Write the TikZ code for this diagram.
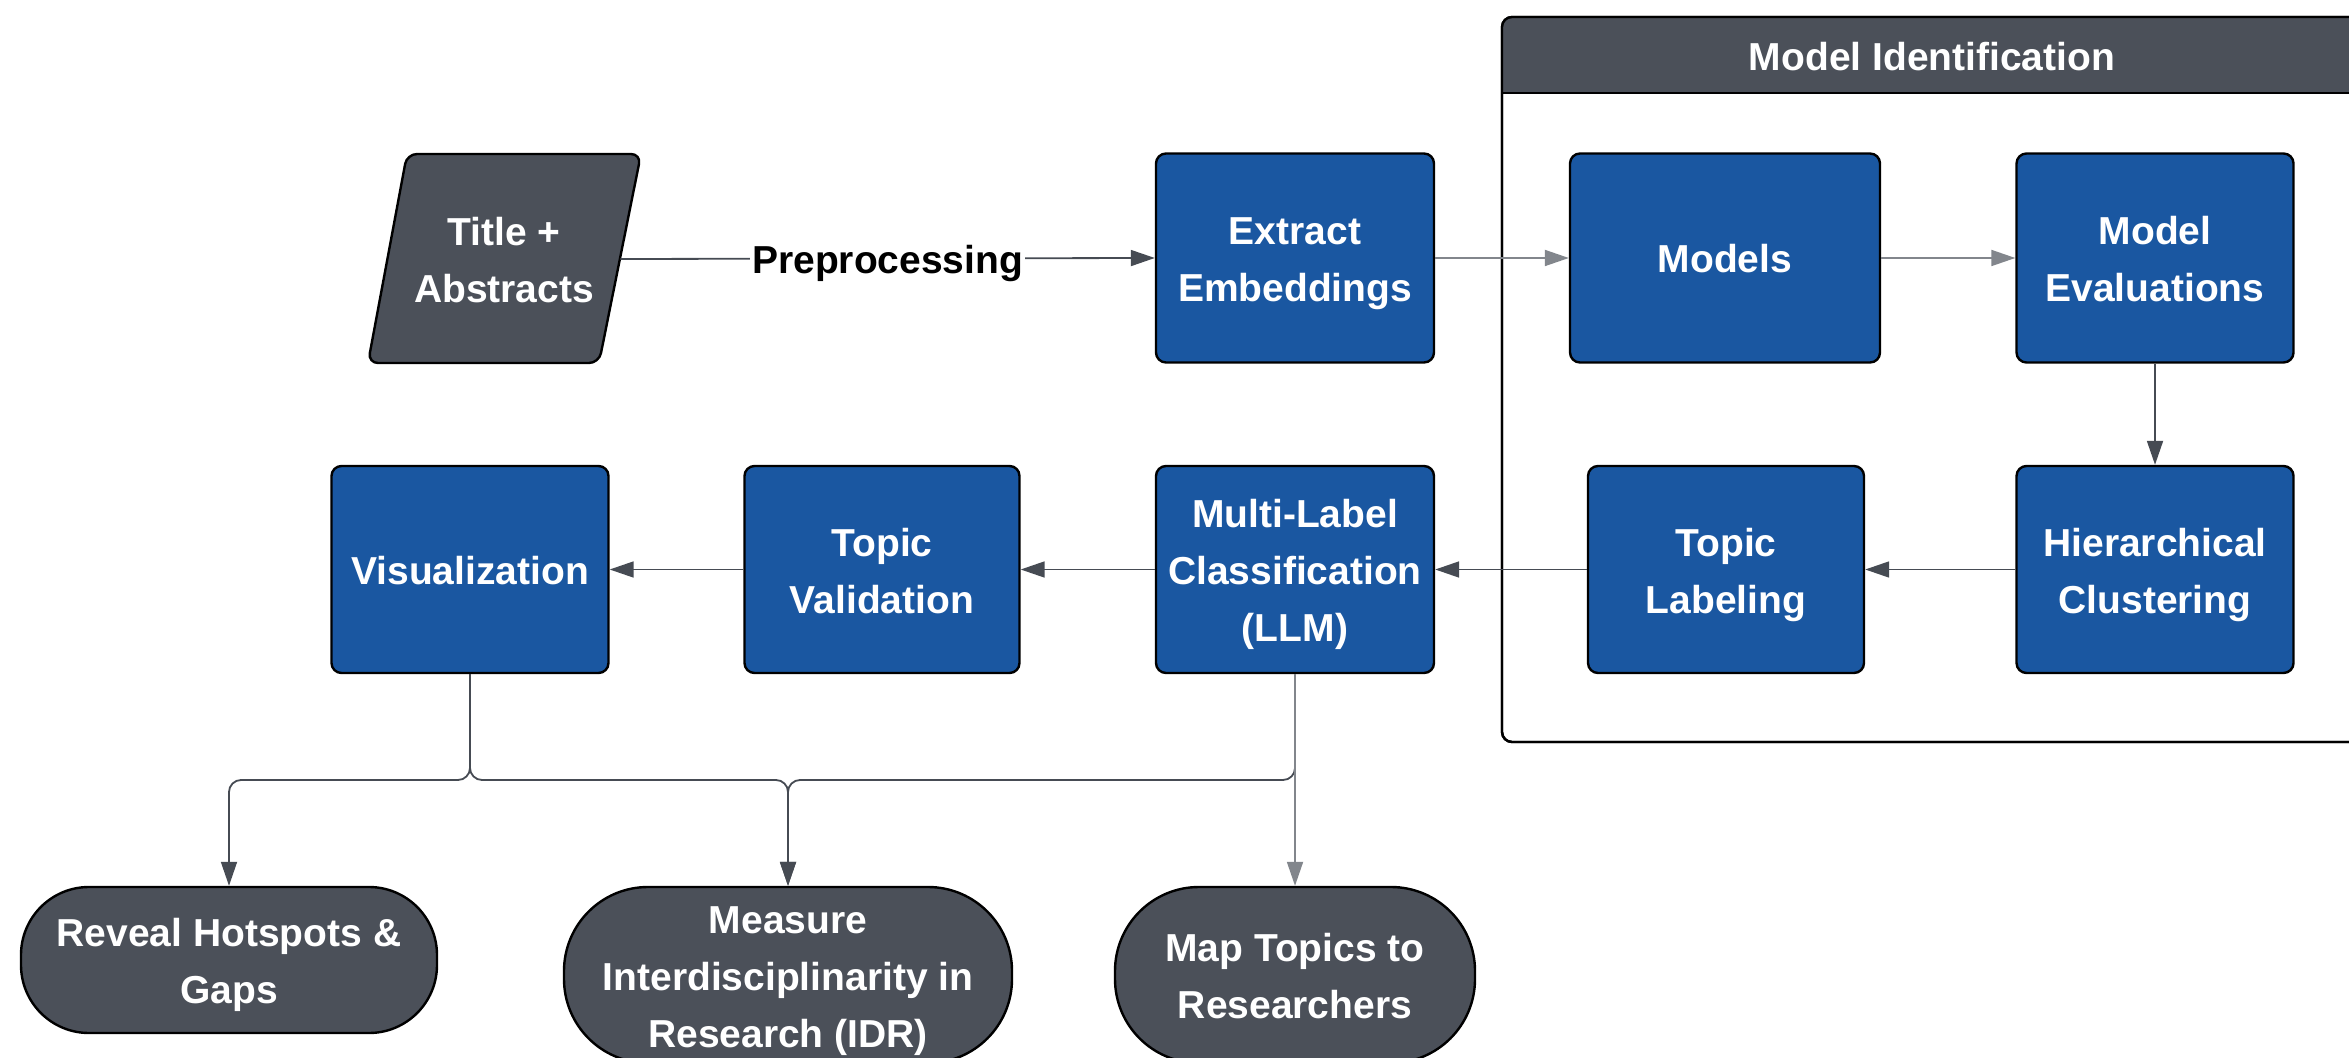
\documentclass[tikz,border=0pt]{standalone}
\usepackage{fontspec}
\setmainfont{Liberation Sans}
\usetikzlibrary{arrows.meta}
\definecolor{boxblue}{RGB}{26,87,161}
\definecolor{slate}{RGB}{75,80,89}
\definecolor{conn}{RGB}{70,75,83}
\definecolor{lightconn}{RGB}{130,134,140}
\newcommand{\lnst}{\rule[-6.75pt]{0pt}{28.5pt}}
\begin{document}
\begin{tikzpicture}[x=0.5pt,y=-0.5pt,
  txt/.style={font=\bfseries\fontsize{19.5}{28.5}\selectfont, align=center, text=white},
  proc/.style={txt, draw=black, line width=1.2pt, fill=boxblue, rounded corners=5pt, minimum height=104.5pt, inner sep=0pt},
  term/.style={txt, draw=black, line width=1.2pt, fill=slate, inner sep=0pt},
  arr/.style={draw=conn, line width=0.9pt, -{Triangle[width=8pt,length=12pt]}},
  lbl/.style={fill=white, text=black, font=\bfseries\fontsize{19.5}{24}\selectfont, inner xsep=1pt, inner ysep=0pt, text height=19pt, text depth=4pt}
]
\useasboundingbox (0,0) rectangle (2349,1058);
\fill[white] (0,0) rectangle (2349,1058);

% group box
\filldraw[fill=white, draw=black, line width=1.2pt, rounded corners=5pt] (1502,17) rectangle (2362,742);
\begin{scope}
  \clip[rounded corners=5pt] (1502,17) rectangle (2362,742);
  \fill[slate] (1502,17) rectangle (2362,93);
\end{scope}
\draw[black, line width=1.2pt] (1502,93) -- (2362,93);
\draw[black, line width=1.2pt, rounded corners=5pt] (1502,17) rectangle (2362,742);
\node[txt] (mihdr) at (1932,57) {Model Identification};

% input parallelogram
\draw[fill=slate, draw=black, line width=1.2pt, rounded corners=5pt] (407,154) -- (641,154) -- (599,363) -- (368,363) -- cycle;
\node[txt, minimum width=116pt, minimum height=20pt, inner sep=0pt] (ta) at (504,259) {\lnst Title +\\\lnst Abstracts};

% process boxes
\node[proc, minimum width=139pt] (ee) at (1295,258) {\lnst Extract\\\lnst Embeddings};
\node[proc, minimum width=155pt] (models) at (1725,258) {\lnst Models};
\node[proc, minimum width=138.5pt] (meval) at (2155,258) {\lnst Model\\\lnst Evaluations};
\node[proc, minimum width=138.5pt, minimum height=103.5pt] (hc) at (2155,569.5) {\lnst Hierarchical\\\lnst Clustering};
\node[proc, minimum width=138pt, minimum height=103.5pt] (tl) at (1726,569.5) {\lnst Topic\\\lnst Labeling};
\node[proc, minimum width=139pt, minimum height=103.5pt] (mlc) at (1295,569.5) {\lnst Multi-Label\\\lnst Classification\\\lnst (LLM)};
\node[proc, minimum width=137.5pt, minimum height=103.5pt] (tv) at (882,569.5) {\lnst Topic\\\lnst Validation};
\node[proc, minimum width=138.5pt, minimum height=103.5pt] (vis) at (470,569.5) {\lnst Visualization};

% terminals
\node[term, minimum width=208pt, minimum height=73pt, rounded corners=34pt] (rh) at (229,960) {\lnst Reveal Hotspots \&\\\lnst Gaps};
\node[term, minimum width=224pt, minimum height=88pt, rounded corners=42pt] (mi) at (788,975) {\lnst Measure\\\lnst Interdisciplinarity in\\\lnst Research (IDR)};
\node[term, minimum width=180pt, minimum height=88pt, rounded corners=42pt] (mt) at (1295,975) {\lnst Map Topics to\\\lnst Researchers};

% connectors
\draw[arr] (ta.east) -- node[lbl] {Preprocessing} (ee.west);
\draw[arr, draw=lightconn] (ee.east) -- (models.west);
\draw[arr, draw=lightconn] (models.east) -- (meval.west);
\draw[arr] (meval.south) -- (hc.north);
\draw[arr] (hc.west) -- (tl.east);
\draw[arr] (tl.west) -- (mlc.east);
\draw[arr] (mlc.west) -- (tv.east);
\draw[arr] (tv.west) -- (vis.east);

\coordinate (bus) at (0,780);
\draw[arr, rounded corners=6pt] (vis.south) |- (rh.north |- bus) -- (rh.north);
\draw[arr, rounded corners=6pt] (vis.south) |- (mi.north |- bus) -- (mi.north);
\draw[arr, rounded corners=6pt] (mlc.south) |- (mi.north |- bus) -- (mi.north);
\draw[arr, draw=lightconn] (mlc.south) -- (mt.north);
\end{tikzpicture}
\end{document}
